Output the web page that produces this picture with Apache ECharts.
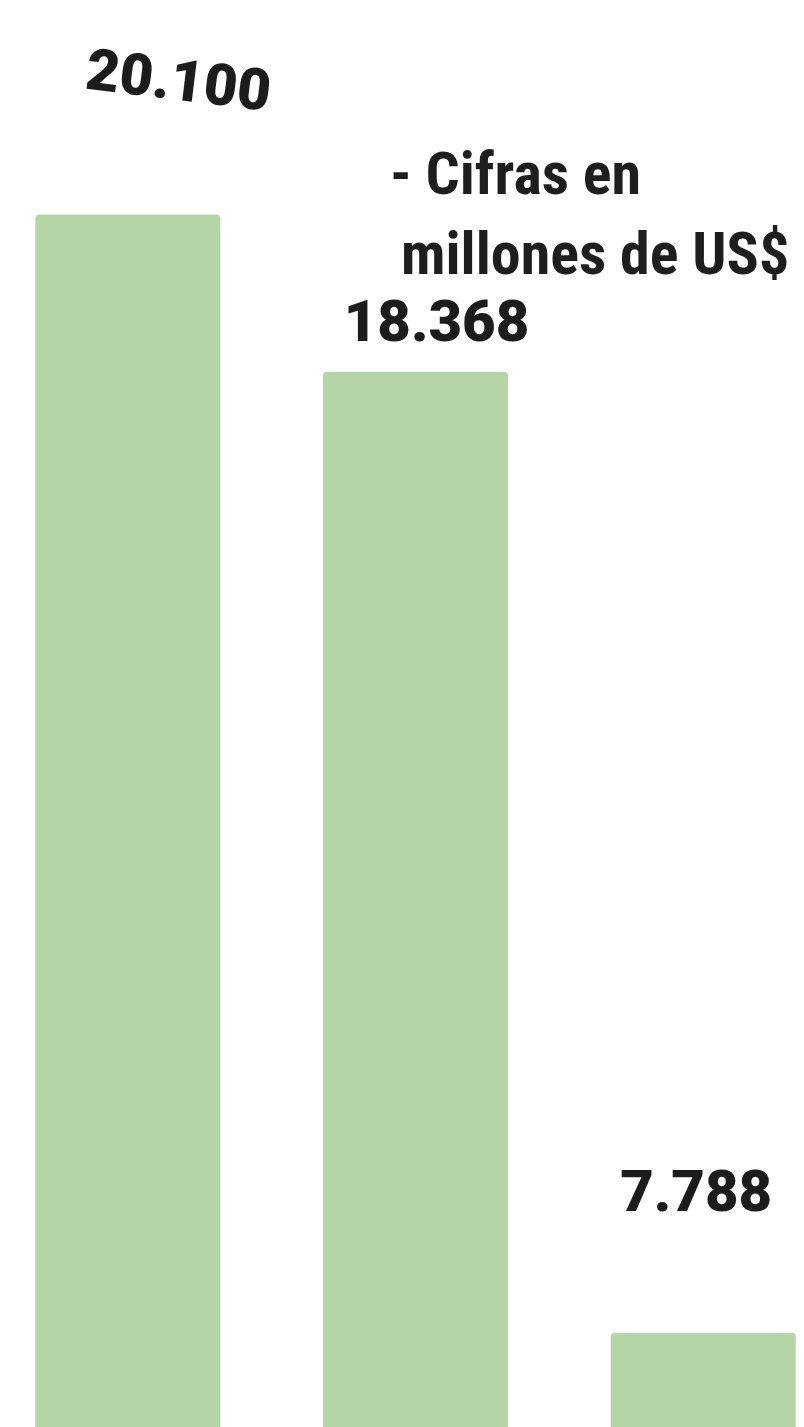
<!DOCTYPE html>
<html>
<head>
<meta charset="utf-8">
<script src="https://cdn.jsdelivr.net/npm/echarts@6/dist/echarts.min.js"></script>
<style>
html,body{margin:0;padding:0;background:#ffffff;overflow:hidden;width:804px;height:1427px;}
#chart{position:absolute;left:-16px;top:0;width:863px;height:1427px;}
</style>
</head>
<body>
<div id="chart"></div>
<script>
// Data
const categories = ['A', 'B', 'C'];
const values = [20100, 18368, 7788];
const valueLabels = ['20.100', '18.368', '7.788'];
const noteLines = ['- Cifras en', 'millones de US$'];

const chart = echarts.init(document.getElementById('chart'), null, {renderer: 'canvas'});

const labelStyles = [
  {distance: 106, offset: [47, 0], rotate: -7},
  {distance: 16, offset: [21, 0], rotate: 0},
  {distance: 107, offset: [-7, 0], rotate: 0}
];

const option = {
  backgroundColor: '#ffffff',
  animation: false,
  grid: {left: 0, right: 0, top: 60, bottom: 0, containLabel: false},
  xAxis: {
    type: 'category',
    data: categories,
    axisLine: {show: false},
    axisTick: {show: false},
    axisLabel: {show: false}
  },
  yAxis: {
    type: 'value',
    min: 6750,
    max: 21800,
    show: false,
    splitLine: {show: false}
  },
  series: [{
    type: 'bar',
    barWidth: 185,
    itemStyle: {color: '#b6d5a6', borderRadius: [4, 4, 0, 0]},
    data: values.map((v, i) => ({
      value: v,
      label: {
        show: true,
        position: 'top',
        distance: labelStyles[i].distance,
        offset: labelStyles[i].offset,
        rotate: labelStyles[i].rotate,
        formatter: valueLabels[i],
        fontFamily: 'Roboto, "DejaVu Sans", sans-serif',
        fontWeight: 900,
        fontSize: 58,
        color: '#1c1c1c'
      }
    }))
  }],
  graphic: [
    {
      type: 'text',
      left: 406,
      top: 149,
      style: {
        text: noteLines[0],
        fontFamily: '"Liberation Sans Narrow", "Roboto Condensed", Roboto, sans-serif',
        fontWeight: 'bold',
        fontSize: 60,
        fill: '#1e1e1e'
      }
    },
    {
      type: 'text',
      left: 417,
      top: 229,
      style: {
        text: noteLines[1],
        fontFamily: '"Liberation Sans Narrow", "Roboto Condensed", Roboto, sans-serif',
        fontWeight: 'bold',
        fontSize: 60,
        fill: '#1e1e1e'
      }
    }
  ]
};
chart.setOption(option);
</script>
</body>
</html>
